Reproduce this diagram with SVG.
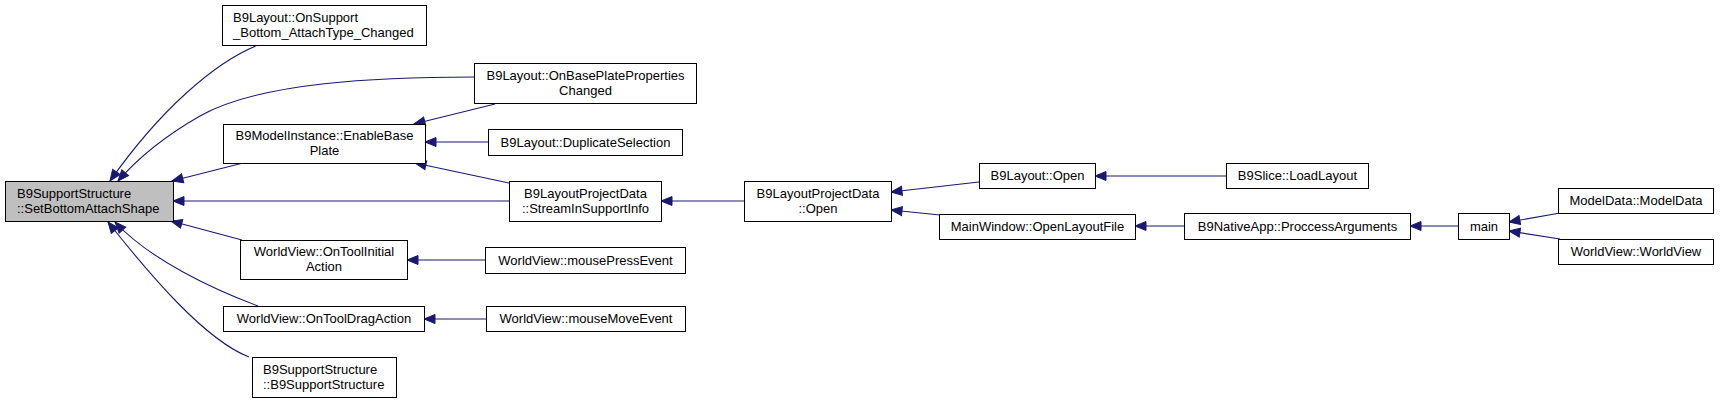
<svg xmlns="http://www.w3.org/2000/svg" width="1720" height="403" viewBox="0 0 1720 403">
<style>
.box{fill:#fff;stroke:#000;stroke-width:1}
.main{fill:#bfbfbf;stroke:#000;stroke-width:1}
text{font-family:"Liberation Sans",Arial,sans-serif;font-size:13px;fill:#000}
.c{text-anchor:middle}
.e{fill:none;stroke:#191970;stroke-width:1.1;marker-end:url(#ah)}
</style>
<defs>
<marker id="ah" markerUnits="userSpaceOnUse" markerWidth="12" markerHeight="10" viewBox="0 -5 12 10" refX="11" refY="0" orient="auto" overflow="visible">
<path d="M0,-4.5 L11,0 L0,4.5 Z" fill="#191970" stroke="#191970" stroke-width="1"/>
</marker>
</defs>
<rect width="1720" height="403" fill="#fff"/>
<g id="edges">
<path class="e" d="M258,45 C215,62 160,110 110,181"/>
<path class="e" d="M474,77 C380,77 260,82 200,116 C165,136 138,158 118,181"/>
<path class="e" d="M243,163 L172,181"/>
<path class="e" d="M509,201 L173,201"/>
<path class="e" d="M242,240 L171,221"/>
<path class="e" d="M258,306 C215,290 150,260 115,222"/>
<path class="e" d="M249,357 C205,340 150,275 108,222"/>
<path class="e" d="M495,104 L414,124"/>
<path class="e" d="M488,142 L425,142"/>
<path class="e" d="M509,183 L415,163"/>
<path class="e" d="M744,201 L661,201"/>
<path class="e" d="M485,260 L407,260"/>
<path class="e" d="M486,319 L424,319"/>
<path class="e" d="M979,182 L891,192"/>
<path class="e" d="M940,215 L891,210"/>
<path class="e" d="M1226,176 L1095,176"/>
<path class="e" d="M1184,226 L1135,226"/>
<path class="e" d="M1458,226 L1410,226"/>
<path class="e" d="M1560,213 L1509,222"/>
<path class="e" d="M1560,239 L1509,231"/>
</g>
<g id="n_main"><rect class="main" x="5.5" y="181.5" width="168" height="40"/><text x="17" y="197.5">B9SupportStructure</text><text x="17" y="212.5">::SetBottomAttachShape</text></g>
<g id="n_onsupport"><rect class="box" x="222.5" y="5.5" width="204" height="40"/><text x="233" y="21.5">B9Layout::OnSupport</text><text x="233" y="36.5">_Bottom_AttachType_Changed</text></g>
<g id="n_onbaseplate"><rect class="box" x="474.5" y="63.5" width="222" height="40"/><text class="c" x="585.5" y="79.5">B9Layout::OnBasePlateProperties</text><text class="c" x="585.5" y="94.5">Changed</text></g>
<g id="n_enable"><rect class="box" x="223.5" y="124.5" width="202" height="39"/><text class="c" x="324.5" y="140">B9ModelInstance::EnableBase</text><text class="c" x="324.5" y="155">Plate</text></g>
<g id="n_dup"><rect class="box" x="488.5" y="129.5" width="194" height="26"/><text class="c" x="585.5" y="146.5">B9Layout::DuplicateSelection</text></g>
<g id="n_stream"><rect class="box" x="509.5" y="181.5" width="152" height="40"/><text class="c" x="585.5" y="197.5">B9LayoutProjectData</text><text class="c" x="585.5" y="212.5">::StreamInSupportInfo</text></g>
<g id="n_initial"><rect class="box" x="240.5" y="240.5" width="167" height="39"/><text class="c" x="324" y="256">WorldView::OnToolInitial</text><text class="c" x="324" y="271">Action</text></g>
<g id="n_drag"><rect class="box" x="223.5" y="306.5" width="201" height="25"/><text class="c" x="324" y="323">WorldView::OnToolDragAction</text></g>
<g id="n_ctor"><rect class="box" x="252.5" y="357.5" width="144" height="40"/><text x="263" y="373.5">B9SupportStructure</text><text x="263" y="388.5">::B9SupportStructure</text></g>
<g id="n_lpdopen"><rect class="box" x="744.5" y="181.5" width="147" height="40"/><text class="c" x="818" y="197.5">B9LayoutProjectData</text><text class="c" x="818" y="212.5">::Open</text></g>
<g id="n_mpress"><rect class="box" x="485.5" y="247.5" width="200" height="26"/><text class="c" x="585.5" y="264.5">WorldView::mousePressEvent</text></g>
<g id="n_mmove"><rect class="box" x="486.5" y="306.5" width="199" height="25"/><text class="c" x="586" y="323">WorldView::mouseMoveEvent</text></g>
<g id="n_b9open"><rect class="box" x="979.5" y="163.5" width="116" height="25"/><text class="c" x="1037.5" y="180">B9Layout::Open</text></g>
<g id="n_openfile"><rect class="box" x="939.5" y="214.5" width="196" height="25"/><text class="c" x="1037.5" y="231">MainWindow::OpenLayoutFile</text></g>
<g id="n_loadlayout"><rect class="box" x="1226.5" y="163.5" width="142" height="25"/><text class="c" x="1297.5" y="180">B9Slice::LoadLayout</text></g>
<g id="n_process"><rect class="box" x="1184.5" y="213.5" width="226" height="26"/><text class="c" x="1297.5" y="230.5">B9NativeApp::ProccessArguments</text></g>
<g id="n_main_fn"><rect class="box" x="1458.5" y="213.5" width="51" height="26"/><text class="c" x="1484" y="230.5">main</text></g>
<g id="n_modeldata"><rect class="box" x="1558.5" y="188.5" width="155" height="25"/><text class="c" x="1636" y="205">ModelData::ModelData</text></g>
<g id="n_worldview"><rect class="box" x="1558.5" y="239.5" width="155" height="25"/><text class="c" x="1636" y="256">WorldView::WorldView</text></g>
</svg>
